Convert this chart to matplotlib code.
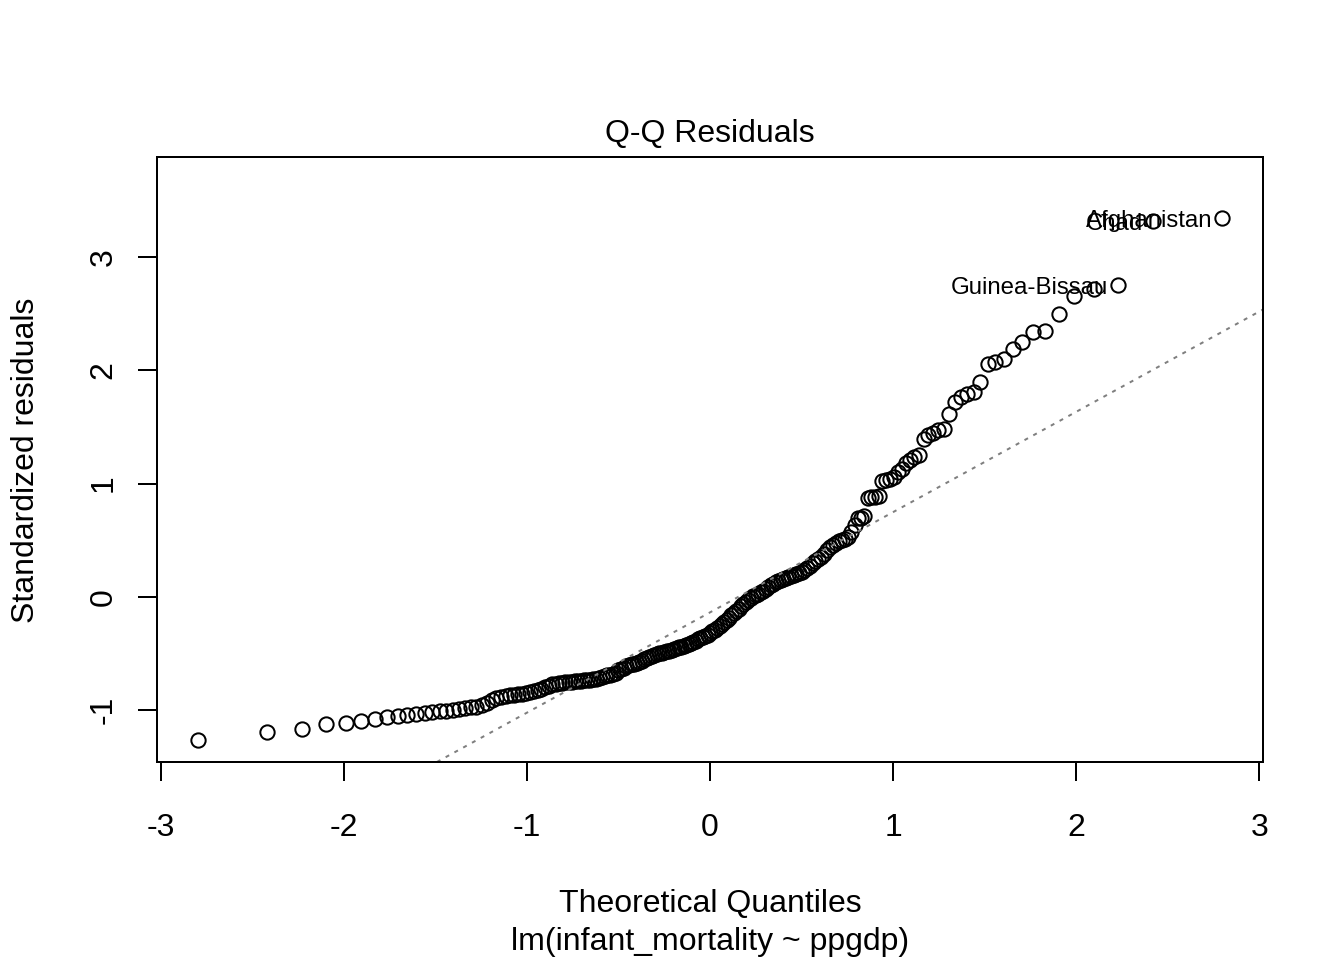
import matplotlib
matplotlib.use("Agg")
import matplotlib.pyplot as plt
import numpy as np
from statistics import NormalDist

# 标准化残差（升序）
std_resid = [
    -1.262, -1.197, -1.172, -1.124, -1.118, -1.095, -1.077, -1.066, -1.055, -1.043,
    -1.035, -1.027, -1.020, -1.013, -1.005, -0.998, -0.992, -0.985, -0.978, -0.970,
    -0.958, -0.935, -0.912, -0.892, -0.882, -0.876, -0.871, -0.867, -0.863, -0.858,
    -0.851, -0.842, -0.832, -0.822, -0.812, -0.801, -0.790, -0.775, -0.767, -0.762,
    -0.759, -0.756, -0.753, -0.750, -0.748, -0.745, -0.742, -0.739, -0.736, -0.732,
    -0.728, -0.724, -0.719, -0.710, -0.703, -0.694, -0.687, -0.680, -0.672, -0.648,
    -0.635, -0.625, -0.616, -0.606, -0.598, -0.590, -0.583, -0.576, -0.565, -0.552,
    -0.543, -0.535, -0.527, -0.517, -0.508, -0.500, -0.495, -0.489, -0.482, -0.476,
    -0.470, -0.463, -0.455, -0.447, -0.440, -0.432, -0.427, -0.421, -0.412, -0.402,
    -0.388, -0.372, -0.360, -0.352, -0.345, -0.335, -0.320, -0.302, -0.290, -0.278,
    -0.262, -0.240, -0.225, -0.205, -0.185, -0.160, -0.140, -0.122, -0.105, -0.078,
    -0.062, -0.045, -0.030, -0.015, 0.005, 0.018, 0.028, 0.045, 0.055, 0.072,
    0.085, 0.100, 0.110, 0.128, 0.142, 0.150, 0.156, 0.165, 0.172, 0.180,
    0.192, 0.200, 0.212, 0.222, 0.235, 0.250, 0.270, 0.295, 0.315, 0.335,
    0.355, 0.380, 0.410, 0.440, 0.460, 0.478, 0.490, 0.500, 0.515, 0.530,
    0.570, 0.630, 0.695, 0.700, 0.710, 0.870, 0.880, 0.885, 0.892, 1.020,
    1.030, 1.040, 1.060, 1.100, 1.130, 1.180, 1.205, 1.235, 1.256, 1.396,
    1.426, 1.449, 1.470, 1.485, 1.617, 1.720, 1.764, 1.793, 1.808, 1.896,
    2.057, 2.078, 2.101, 2.189, 2.248, 2.336, 2.345, 2.498, 2.659, 2.718,
    2.753, 3.320, 3.343,
]
# 绝对值最大的三个残差对应的国家（从大到小）
id_names = ["Afghanistan", "Chad", "Guinea-Bissau"]

x_ticks = [-3, -2, -1, 0, 1, 2, 3]
y_ticks = [-1, 0, 1, 2, 3]
title = "Q-Q Residuals"
x_label = "Theoretical Quantiles"
y_label = "Standardized residuals"
sub_caption = "lm(infant_mortality ~ ppgdp)"

assert len(std_resid) == 193

plt.rcParams["font.family"] = ["Liberation Sans", "DejaVu Sans"]
FS = 23.0            # 12pt @ 192dpi
LW = 1.44            # R lwd=1

y = np.array(std_resid)
n = len(y)
# 理论分位数 qnorm(ppoints(n))
nd = NormalDist()
x = np.array([nd.inv_cdf((i - 0.5) / n) for i in range(1, n + 1)])

# qqline: 过上下四分位点
q25, q75 = np.quantile(y, [0.25, 0.75])
t25, t75 = nd.inv_cdf(0.25), nd.inv_cdf(0.75)
slope = (q75 - q25) / (t75 - t25)
intercept = q25 - slope * t25

fig = plt.figure(figsize=(13.44, 9.6), dpi=100)
ax = fig.add_axes([157 / 1344, 1 - 762 / 960, (1263 - 157) / 1344, (762 - 157) / 960])

ax.plot(x, y, linestyle="none", marker="o", markersize=10.3,
        markerfacecolor="none", markeredgecolor="black", markeredgewidth=LW)
ax.axline((0, intercept), slope=slope, color="#7f7f7f", linewidth=LW,
          linestyle=(0, (2.0, 3.0)))

# 标注
order = np.argsort(-np.abs(y))[:len(id_names)]
for idx, name in zip(order, id_names):
    ax.annotate(name, xy=(x[idx], y[idx]), xytext=(-7, -6.2),
                textcoords="offset points", ha="right", va="baseline",
                fontsize=FS * 0.75)

# R 风格坐标范围（上方留出 7.5% 给标签，再扩 4%）
xr = x.max() - x.min()
ax.set_xlim(x.min() - 0.04 * xr, x.max() + 0.04 * xr)
ylo, yhi = y.min(), y.max()
yhi = yhi + 0.075 * (yhi - ylo)
yr = yhi - ylo
ax.set_ylim(ylo - 0.04 * yr, yhi + 0.04 * yr)

ax.set_xticks(x_ticks)
ax.set_xticklabels([str(t) for t in x_ticks], fontsize=FS)
ax.set_yticks(y_ticks)
ax.set_yticklabels([str(t) for t in y_ticks], fontsize=FS, rotation=90, va="center")
ax.tick_params(axis="x", length=13.8, width=LW, pad=23)
ax.tick_params(axis="y", length=13.8, width=LW, pad=13.7)
for sp in ax.spines.values():
    sp.set_linewidth(LW)

fig.text(710 / 1344, 1 - 142 / 960, title, ha="center", va="baseline", fontsize=FS)
fig.text(710 / 1344, 1 - 912 / 960, x_label, ha="center", va="baseline", fontsize=FS)
fig.text(710 / 1344, 1 - 950 / 960, sub_caption, ha="center", va="baseline", fontsize=FS)
fig.text(34 / 1344, 1 - 460 / 960, y_label, ha="center", va="baseline",
         rotation=90, rotation_mode="anchor", fontsize=FS)

fig.savefig("out.png", dpi=100)
